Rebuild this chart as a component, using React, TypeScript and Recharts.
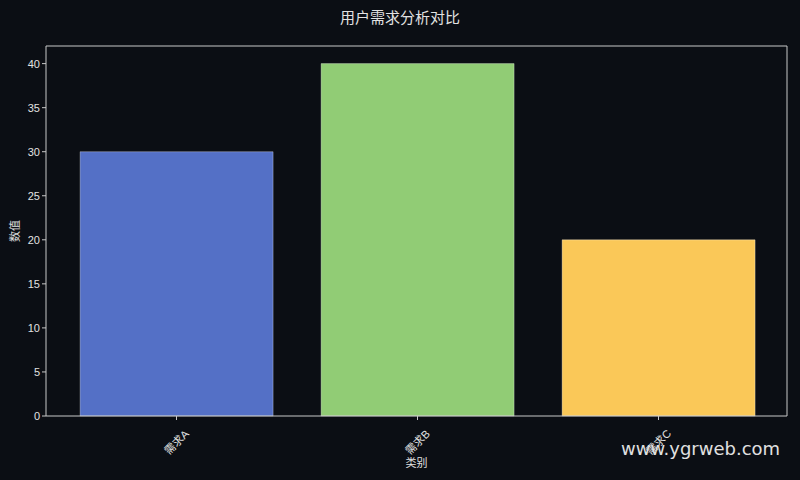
import React from "react";
import { BarChart, Bar, XAxis, YAxis, Cell, CartesianGrid } from "recharts";

const categories = ["需求A", "需求B", "需求C"];
const values = [30, 40, 20];
const colors = ["#5470c6", "#91cc75", "#fac858"];
const yTicks = [0, 5, 10, 15, 20, 25, 30, 35, 40];

const data = categories.map((c, i) => ({ name: c, value: values[i] }));

const FONT = "'Liberation Sans', 'Noto Sans CJK SC', sans-serif";
const AXIS = "#c8c8c8";
const TEXT = "#e2e2e2";

const XTick = (props: any) => {
  const { x, y, payload } = props;
  const cy = y + 20;
  return (
    <text
      x={x}
      y={cy}
      transform={`rotate(-45, ${x}, ${cy})`}
      textAnchor="middle"
      dominantBaseline="central"
      fill={TEXT}
      fontSize={11}
      fontFamily={FONT}
    >
      {payload.value}
    </text>
  );
};

const YLabel = (props: any) => {
  const { viewBox } = props;
  const cx = viewBox.x + 15;
  const cy = viewBox.y + viewBox.height / 2;
  return (
    <text
      x={cx}
      y={cy}
      transform={`rotate(-90, ${cx}, ${cy})`}
      textAnchor="middle"
      dominantBaseline="central"
      fill={TEXT}
      fontSize={11}
      fontFamily={FONT}
    >
      数值
    </text>
  );
};

export default function App() {
  return (
    <div
      style={{
        position: "absolute",
        left: 0,
        top: 0,
        width: 800,
        height: 480,
        background: "#0b0e14",
        overflow: "hidden",
      }}
    >
      <div
        style={{
          position: "absolute",
          top: 7,
          width: 800,
          textAlign: "center",
          color: TEXT,
          fontSize: 15,
          fontFamily: "'Noto Sans CJK SC', sans-serif",
          lineHeight: "20px",
        }}
      >
        用户需求分析对比
      </div>
      <BarChart
        width={800}
        height={480}
        data={data}
        margin={{ top: 46, right: 13, bottom: 0, left: 0 }}
        barCategoryGap="10%"
      >
        <CartesianGrid
          stroke={AXIS}
          strokeWidth={1}
          horizontalCoordinatesGenerator={({ offset }: any) => [offset.top]}
          verticalCoordinatesGenerator={({ offset }: any) => [offset.left + offset.width]}
        />
        <XAxis
          dataKey="name"
          height={64}
          padding={{ left: 10, right: 8 }}
          stroke={AXIS}
          tickSize={4}
          tick={<XTick />}
          interval={0}
          label={{
            value: "类别",
            position: "insideBottom",
            offset: 13,
            fill: TEXT,
            fontSize: 11,
            fontFamily: FONT,
          }}
        />
        <YAxis
          width={46}
          domain={[0, 42]}
          ticks={yTicks}
          stroke={AXIS}
          tickSize={4}
          tick={{ fill: TEXT, fontSize: 11, fontFamily: FONT }}
          label={<YLabel />}
        />
        <Bar
          dataKey="value"
          isAnimationActive={false}
          stroke="rgba(255,255,255,0.3)"
          strokeWidth={1}
        >
          {data.map((d, i) => (
            <Cell key={d.name} fill={colors[i]} />
          ))}
        </Bar>
      </BarChart>
      <div
        style={{
          position: "absolute",
          left: 621,
          top: 436,
          color: "#e0e0e0",
          fontSize: 18,
          fontFamily: "'DejaVu Sans', sans-serif",
          lineHeight: "26px",
          whiteSpace: "nowrap",
        }}
      >
        www.ygrweb.com
      </div>
    </div>
  );
}
